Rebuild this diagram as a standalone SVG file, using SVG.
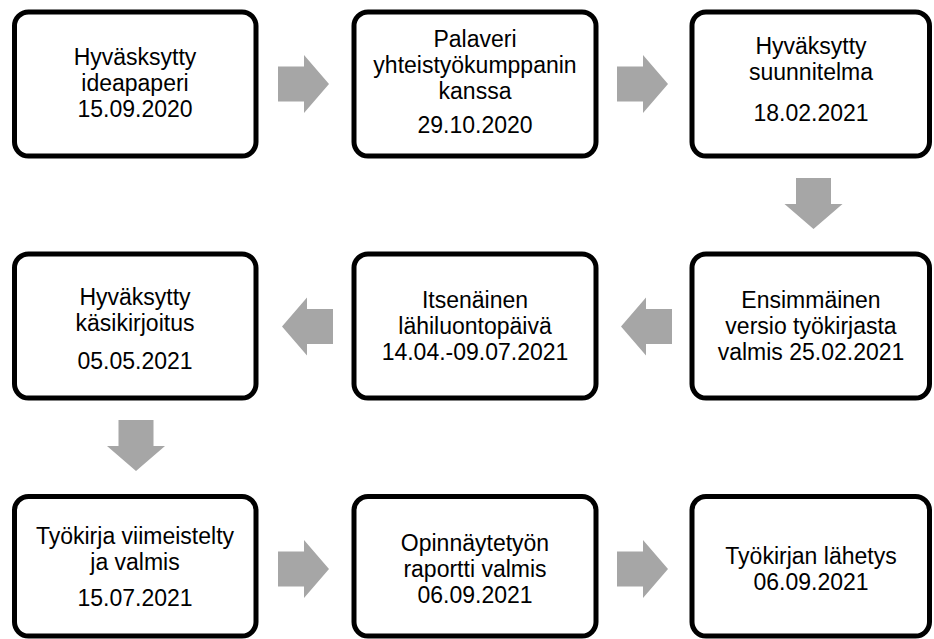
<svg xmlns="http://www.w3.org/2000/svg" width="934" height="639" viewBox="0 0 934 639">
<style>
.box{fill:#fff;stroke:#000;stroke-width:5}
.t{font-family:"Liberation Sans",Arial,sans-serif;font-size:23px;fill:#000;text-anchor:middle}
.arr{fill:#A6A6A6}
</style>
<defs>
<polygon id="ar" points="0,-17.5 26,-17.5 26,-29 51,0 26,29 26,17.5 0,17.5"/>
</defs>
<rect width="934" height="639" fill="#fff"/>
<g id="connectors">
<use href="#ar" class="arr" transform="translate(278,84)"/>
<use href="#ar" class="arr" transform="translate(617,84)"/>
<use href="#ar" class="arr" transform="translate(813.5,178) rotate(90)"/>
<use href="#ar" class="arr" transform="translate(672,326.5) rotate(180)"/>
<use href="#ar" class="arr" transform="translate(333,326.5) rotate(180)"/>
<use href="#ar" class="arr" transform="translate(136,420) rotate(90)"/>
<use href="#ar" class="arr" transform="translate(278,569)"/>
<use href="#ar" class="arr" transform="translate(617,569)"/>
</g>
<g id="n1">
<rect class="box" x="14.5" y="12" width="241.5" height="144" rx="14"/>
<text class="t" x="135" y="64.5">Hyväsksytty<tspan x="135" dy="26">ideapaperi</tspan><tspan x="135" dy="26">15.09.2020</tspan></text>
</g>
<g id="n2">
<rect class="box" x="354" y="12" width="242" height="144" rx="14"/>
<text class="t" x="475" y="47">Palaveri<tspan x="475" dy="26">yhteistyökumppanin</tspan><tspan x="475" dy="26">kanssa</tspan><tspan x="475" dy="34">29.10.2020</tspan></text>
</g>
<g id="n3">
<rect class="box" x="692" y="12" width="237.5" height="144" rx="14"/>
<text class="t" x="811" y="54">Hyväksytty<tspan x="811" dy="26">suunnitelma</tspan><tspan x="811" dy="41">18.02.2021</tspan></text>
</g>
<g id="n4">
<rect class="box" x="14.5" y="254" width="241.5" height="144" rx="14"/>
<text class="t" x="135" y="305">Hyväksytty<tspan x="135" dy="26">käsikirjoitus</tspan><tspan x="135" dy="38">05.05.2021</tspan></text>
</g>
<g id="n5">
<rect class="box" x="354" y="254" width="242" height="144" rx="14"/>
<text class="t" x="475" y="308">Itsenäinen<tspan x="475" dy="26">lähiluontopäivä</tspan><tspan x="475" dy="26">14.04.-09.07.2021</tspan></text>
</g>
<g id="n6">
<rect class="box" x="692" y="254" width="237.5" height="144" rx="14"/>
<text class="t" x="811" y="308">Ensimmäinen<tspan x="811" dy="26">versio työkirjasta</tspan><tspan x="811" dy="26">valmis 25.02.2021</tspan></text>
</g>
<g id="n7">
<rect class="box" x="14.5" y="496.5" width="241.5" height="139.5" rx="14"/>
<text class="t" x="135" y="544">Työkirja viimeistelty<tspan x="135" dy="26">ja valmis</tspan><tspan x="135" dy="36">15.07.2021</tspan></text>
</g>
<g id="n8">
<rect class="box" x="354" y="496.5" width="242" height="139.5" rx="14"/>
<text class="t" x="475" y="551">Opinnäytetyön<tspan x="475" dy="26">raportti valmis</tspan><tspan x="475" dy="26">06.09.2021</tspan></text>
</g>
<g id="n9">
<rect class="box" x="692" y="496.5" width="237.5" height="139.5" rx="14"/>
<text class="t" x="811" y="564">Työkirjan lähetys<tspan x="811" dy="26">06.09.2021</tspan></text>
</g>
</svg>
